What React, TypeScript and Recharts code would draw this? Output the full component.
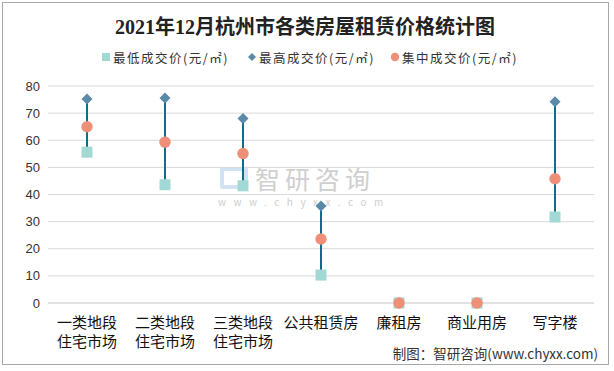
import React from "react";
import { ComposedChart, Bar, Scatter, XAxis, YAxis, CartesianGrid } from "recharts";

const categories = ["一类地段\n住宅市场", "二类地段\n住宅市场", "三类地段\n住宅市场", "公共租赁房", "廉租房", "商业用房", "写字楼"];
const minPrice = [55.6, 43.6, 43.2, 10.3, 0, 0, 31.7];
const maxPrice = [75.2, 75.6, 68.0, 35.8, 0, 0, 74.2];
const midPrice = [65.0, 59.3, 55.1, 23.6, 0, 0, 45.8];
const yTicks = [0, 10, 20, 30, 40, 50, 60, 70, 80];

const title = "2021年12月杭州市各类房屋租赁价格统计图";
const legendMin = "最低成交价(元/㎡)";
const legendMax = "最高成交价(元/㎡)";
const legendMid = "集中成交价(元/㎡)";
const source = "制图：智研咨询(www.chyxx.com)";

const data = categories.map((name, i) => ({
  name,
  min: minPrice[i],
  max: maxPrice[i],
  mid: midPrice[i],
  range: [minPrice[i], maxPrice[i]],
}));

const C_MIN = "#a3d9d5";
const C_MAX = "#5a8aa8";
const C_MID = "#ee8f78";
const C_LINE = "#116b8b";
const FONT = "'Noto Sans CJK SC', 'Noto Sans', sans-serif";

const SquareShape = (p: any) => (
  <rect x={p.cx - 5.5} y={p.cy - 5.5} width={11} height={11} fill={C_MIN} />
);
const DiamondShape = (p: any) => (
  <path d={`M${p.cx},${p.cy - 5.5}L${p.cx + 5.5},${p.cy}L${p.cx},${p.cy + 5.5}L${p.cx - 5.5},${p.cy}Z`} fill={C_MAX} />
);
const CircleShape = (p: any) => <circle cx={p.cx} cy={p.cy} r={5.7} fill={C_MID} />;

const XTick = (p: any) => {
  const lines = String(p.payload.value).split("\n");
  return (
    <text x={p.x} y={p.y} textAnchor="middle" fill="#111" fontSize={15} fontFamily={FONT}>
      {lines.map((l, i) => (
        <tspan key={i} x={p.x} dy={i === 0 ? 17 : 19}>{l}</tspan>
      ))}
    </text>
  );
};

const legendItem = (left: number, marker: React.ReactNode, label: string) => (
  <div style={{ position: "absolute", left, top: 49, height: 16, display: "flex", alignItems: "center", fontSize: 12.5, color: "#333", fontFamily: FONT, whiteSpace: "nowrap", letterSpacing: 1.5 }}>
    <svg width={10} height={10} style={{ marginRight: 2 }}>{marker}</svg>
    <span>{label}</span>
  </div>
);

export default function App() {
  return (
    <div style={{ position: "absolute", left: 0, top: 0, width: 614, height: 371, background: "#fff", overflow: "hidden" }}>
      <div style={{ position: "absolute", left: 2, top: 2, width: 607, height: 363, border: "1px solid #a8a8a8", boxSizing: "border-box" }} />
      <div style={{ position: "absolute", left: 0, top: 11, width: 610, textAlign: "center", fontSize: 20, fontWeight: "bold", color: "#222", fontFamily: "'Liberation Serif', 'Noto Sans CJK SC', serif", whiteSpace: "nowrap" }}>
        {title}
      </div>
      {legendItem(101, <rect x={1} y={1} width={8} height={8} fill={C_MIN} />, legendMin)}
      {legendItem(247, <path d="M5,1L9,5L5,9L1,5Z" fill={C_MAX} />, legendMax)}
      {legendItem(390, <circle cx={5} cy={5} r={4.2} fill={C_MID} />, legendMid)}
      <div style={{ position: "absolute", left: 255, top: 167, fontSize: 25, lineHeight: "22px", color: "#c4c4c4", fontFamily: FONT, letterSpacing: 5, opacity: 0.8 }}>智研咨询</div>
      <div style={{ position: "absolute", left: 218, top: 197, fontSize: 10, lineHeight: "10px", color: "#c4c4c4", fontFamily: FONT, letterSpacing: 7.5, opacity: 0.8 }}>www.chyxx.com</div>
      <div style={{ position: "absolute", left: 220, top: 167, width: 28, height: 22, border: "4px solid #c6dcec", borderRadius: 2, boxSizing: "border-box", opacity: 0.8 }} />
      <div style={{ position: "absolute", left: 0, top: 0 }}>
        <ComposedChart width={614} height={371} data={data} margin={{ top: 86, right: 20, bottom: 8, left: 8 }}>
          <CartesianGrid vertical={false} stroke="#d9d9d9" />
          <XAxis dataKey="name" height={60} interval={0} axisLine={{ stroke: "#d9d9d9" }} tickLine={false} tick={<XTick />} />
          <YAxis width={40} domain={[0, 80]} ticks={yTicks} axisLine={false} tickLine={false} tick={{ fill: "#333", fontSize: 13, fontFamily: "'Liberation Sans', Arial, sans-serif" }} />
          <Bar dataKey="range" barSize={2} fill={C_LINE} isAnimationActive={false} />
          <Scatter dataKey="min" shape={SquareShape} isAnimationActive={false} />
          <Scatter dataKey="max" shape={DiamondShape} isAnimationActive={false} />
          <Scatter dataKey="mid" shape={CircleShape} isAnimationActive={false} />
        </ComposedChart>
      </div>
      <div style={{ position: "absolute", right: 16, top: 343, fontSize: 13.5, color: "#333", fontFamily: FONT, whiteSpace: "nowrap" }}>{source}</div>
    </div>
  );
}
